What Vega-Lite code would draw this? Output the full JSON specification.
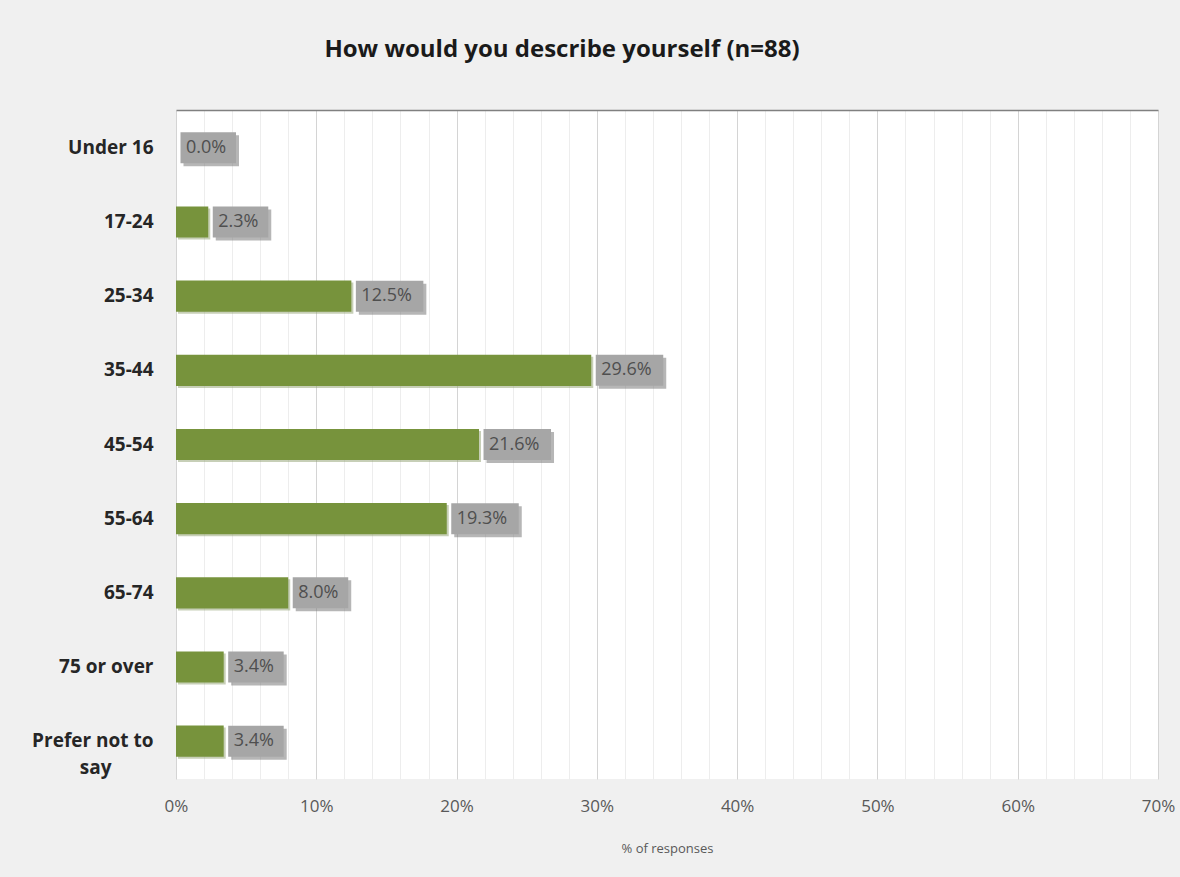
{
  "$schema": "https://vega.github.io/schema/vega-lite/v6.json",
  "autosize": {"type": "none"},
  "width": 982,
  "height": 669,
  "padding": {"left": 176, "top": 110, "right": 22, "bottom": 98},
  "background": "#f0f0f0",
  "config": {
    "view": {"fill": "white", "stroke": null},
    "font": "Open Sans"
  },
  "title": {
    "text": "How would you describe yourself (n=88)",
    "font": "Open Sans",
    "fontSize": 24,
    "fontWeight": "bold",
    "color": "#1a1a1a",
    "anchor": "middle",
    "dx": -105,
    "offset": 48
  },
  "data": {
    "values": [
      {"age": "Under 16", "pct": 0.0, "label": "0.0%"},
      {"age": "17-24", "pct": 2.3, "label": "2.3%"},
      {"age": "25-34", "pct": 12.5, "label": "12.5%"},
      {"age": "35-44", "pct": 29.6, "label": "29.6%"},
      {"age": "45-54", "pct": 21.6, "label": "21.6%"},
      {"age": "55-64", "pct": 19.3, "label": "19.3%"},
      {"age": "65-74", "pct": 8.0, "label": "8.0%"},
      {"age": "75 or over", "pct": 3.4, "label": "3.4%"},
      {"age": "Prefer not to say", "pct": 3.4, "label": "3.4%"}
    ]
  },
  "resolve": {"axis": {"x": "independent"}},
  "layer": [
    {
      "mark": {"type": "bar", "color": "#8fa070", "opacity": 0.5, "xOffset": 2, "x2Offset": 2, "yOffset": 2, "y2Offset": 2},
      "encoding": {
        "y": {
          "field": "age", "type": "nominal", "sort": null,
          "scale": {"paddingInner": 0.58, "paddingOuter": 0.3},
          "axis": {
            "title": null, "ticks": false, "domain": false, "grid": false,
            "labelFont": "Open Sans", "labelFontWeight": "bold", "labelFontSize": 19,
            "labelColor": "#262626", "labelPadding": 23, "labelLimit": 300,
            "labelLineHeight": 27,
            "labelExpr": "datum.value == 'Prefer not to say' ? ['Prefer not to', 'say\u2800\u2800\u2800'] : datum.value"
          }
        },
        "x": {
          "field": "pct", "type": "quantitative",
          "scale": {"domain": [0, 70], "nice": false, "zero": true},
          "axis": {
            "orient": "bottom",
            "values": [0,2,4,6,8,10,12,14,16,18,20,22,24,26,28,30,32,34,36,38,40,42,44,46,48,50,52,54,56,58,60,62,64,66,68,70],
            "labelExpr": "datum.value % 10 == 0 ? datum.value + '%' : ''",
            "labelOverlap": false, "labelFlush": false,
            "labelFont": "Open Sans", "labelFontSize": 17, "labelColor": "#595959",
            "labelPadding": 19,
            "ticks": false, "domain": false,
            "grid": true,
            "gridColor": {"condition": {"test": "datum.value % 10 == 0", "value": "#d4d4d4"}, "value": "#ededed"},
            "gridWidth": 1,
            "title": "% of responses",
            "titleFont": "Open Sans", "titleFontSize": 13, "titleFontWeight": "normal",
            "titleColor": "#595959", "titlePadding": 28
          }
        }
      }
    },
    {
      "mark": {"type": "bar", "color": "#77933c"},
      "encoding": {
        "y": {"field": "age", "type": "nominal", "sort": null},
        "x": {
          "field": "pct", "type": "quantitative",
          "axis": {
            "orient": "top", "labels": false, "ticks": false, "grid": false,
            "domain": true, "domainColor": "#808080", "domainWidth": 1.5, "title": null
          }
        }
      }
    },
    {
      "mark": {"type": "point", "filled": true, "opacity": 0.55, "color": "#7a7a7a", "size": 400, "strokeWidth": 0},
      "encoding": {
        "y": {"field": "age", "type": "nominal", "sort": null},
        "x": {"field": "pct", "type": "quantitative", "axis": null},
        "shape": {
          "condition": {"test": "datum.pct >= 10", "value": "M0.75,-1.25H7.5V1.85H0.75Z"},
          "value": "M0.75,-1.25H6.3V1.85H0.75Z"
        }
      }
    },
    {
      "mark": {"type": "point", "filled": true, "opacity": 1, "color": "#a6a6a6", "size": 400, "strokeWidth": 0},
      "encoding": {
        "y": {"field": "age", "type": "nominal", "sort": null},
        "x": {"field": "pct", "type": "quantitative", "axis": null},
        "shape": {
          "condition": {"test": "datum.pct >= 10", "value": "M0.45,-1.55H7.2V1.55H0.45Z"},
          "value": "M0.45,-1.55H6.0V1.55H0.45Z"
        }
      }
    },
    {
      "mark": {"type": "text", "align": "left", "baseline": "middle", "dx": 10, "font": "Open Sans", "fontSize": 18, "color": "#4f4f4f"},
      "encoding": {
        "y": {"field": "age", "type": "nominal", "sort": null},
        "x": {"field": "pct", "type": "quantitative", "axis": null},
        "text": {"field": "label"}
      }
    }
  ]
}
